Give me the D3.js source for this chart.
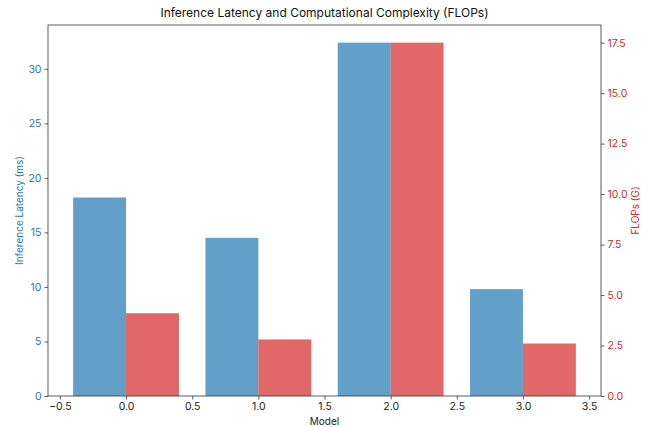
<!DOCTYPE html>
<html><head><meta charset="utf-8">
<script src="https://cdn.jsdelivr.net/npm/d3@7"></script>
<style>body{margin:0;background:#fff}svg{display:block}text{font-family:Inter,"DejaVu Sans",sans-serif}</style>
</head><body>
<script>
const models = [0, 1, 2, 3];
const latency = [18.2, 14.5, 32.4, 9.8];
const flops = [4.1, 2.8, 17.5, 2.6];
const xTicks = [-0.5, 0.0, 0.5, 1.0, 1.5, 2.0, 2.5, 3.0, 3.5];
const leftTicks = [0, 5, 10, 15, 20, 25, 30];
const rightTicks = [0, 2.5, 5, 7.5, 10, 12.5, 15, 17.5];

const W = 652, H = 427;
const m = {l: 48, r: 601, t: 25, b: 396};
const blue = "#1f77b4", red = "#d62728";
const svg = d3.select("body").append("svg").attr("width", W).attr("height", H);

const x = d3.scaleLinear().domain([-0.59, 3.59]).range([m.l, m.r]);
const yL = d3.scaleLinear().domain([0, 32.4 * 1.05]).range([m.b, m.t]);
const yR = d3.scaleLinear().domain([0, 17.5 * 1.05]).range([m.b, m.t]);
const bw = 0.4;

svg.append("g").selectAll("rect").data(models).join("rect")
  .attr("x", d => x(d - bw)).attr("width", d => x(d) - x(d - bw))
  .attr("y", (d, i) => yL(latency[i])).attr("height", (d, i) => yL(0) - yL(latency[i]))
  .attr("fill", blue).attr("fill-opacity", 0.7);
svg.append("g").selectAll("rect").data(models).join("rect")
  .attr("x", d => x(d)).attr("width", d => x(d + bw) - x(d))
  .attr("y", (d, i) => yR(flops[i])).attr("height", (d, i) => yR(0) - yR(flops[i]))
  .attr("fill", red).attr("fill-opacity", 0.7);

function style(g, color) {
  g.select(".domain").remove();
  g.selectAll(".tick line").attr("stroke", "#333").attr("stroke-width", 0.8);
  g.selectAll(".tick text").attr("fill", color).attr("font-size", 10.5);
}
svg.append("g").attr("transform", `translate(0,${m.b})`)
  .call(d3.axisBottom(x).tickValues(xTicks).tickFormat(d3.format(".1f")).tickSize(3.5).tickPadding(3))
  .call(g => style(g, "#222"));
svg.append("g").attr("transform", `translate(${m.l},0)`)
  .call(d3.axisLeft(yL).tickValues(leftTicks).tickFormat(d3.format("d")).tickSize(3.5).tickPadding(3))
  .call(g => style(g, blue));
svg.append("g").attr("transform", `translate(${m.r},0)`)
  .call(d3.axisRight(yR).tickValues(rightTicks).tickFormat(d3.format(".1f")).tickSize(3.5).tickPadding(3))
  .call(g => style(g, red));

svg.append("rect").attr("x", m.l).attr("y", m.t).attr("width", m.r - m.l).attr("height", m.b - m.t)
  .attr("fill", "none").attr("stroke", "#333").attr("stroke-width", 0.8);

svg.append("text").attr("x", (m.l + m.r) / 2).attr("y", 17).attr("text-anchor", "middle")
  .attr("font-size", 12).attr("fill", "#111").text("Inference Latency and Computational Complexity (FLOPs)");
svg.append("text").attr("x", (m.l + m.r) / 2).attr("y", 425).attr("text-anchor", "middle")
  .attr("font-size", 10).attr("fill", "#222").text("Model");
svg.append("text").attr("transform", `translate(23,${(m.t + m.b) / 2}) rotate(-90)`).attr("text-anchor", "middle")
  .attr("font-size", 10).attr("fill", blue).text("Inference Latency (ms)");
svg.append("text").attr("transform", `translate(639,${(m.t + m.b) / 2}) rotate(-90)`).attr("text-anchor", "middle")
  .attr("font-size", 10).attr("fill", red).text("FLOPs (G)");
</script>
</body></html>
